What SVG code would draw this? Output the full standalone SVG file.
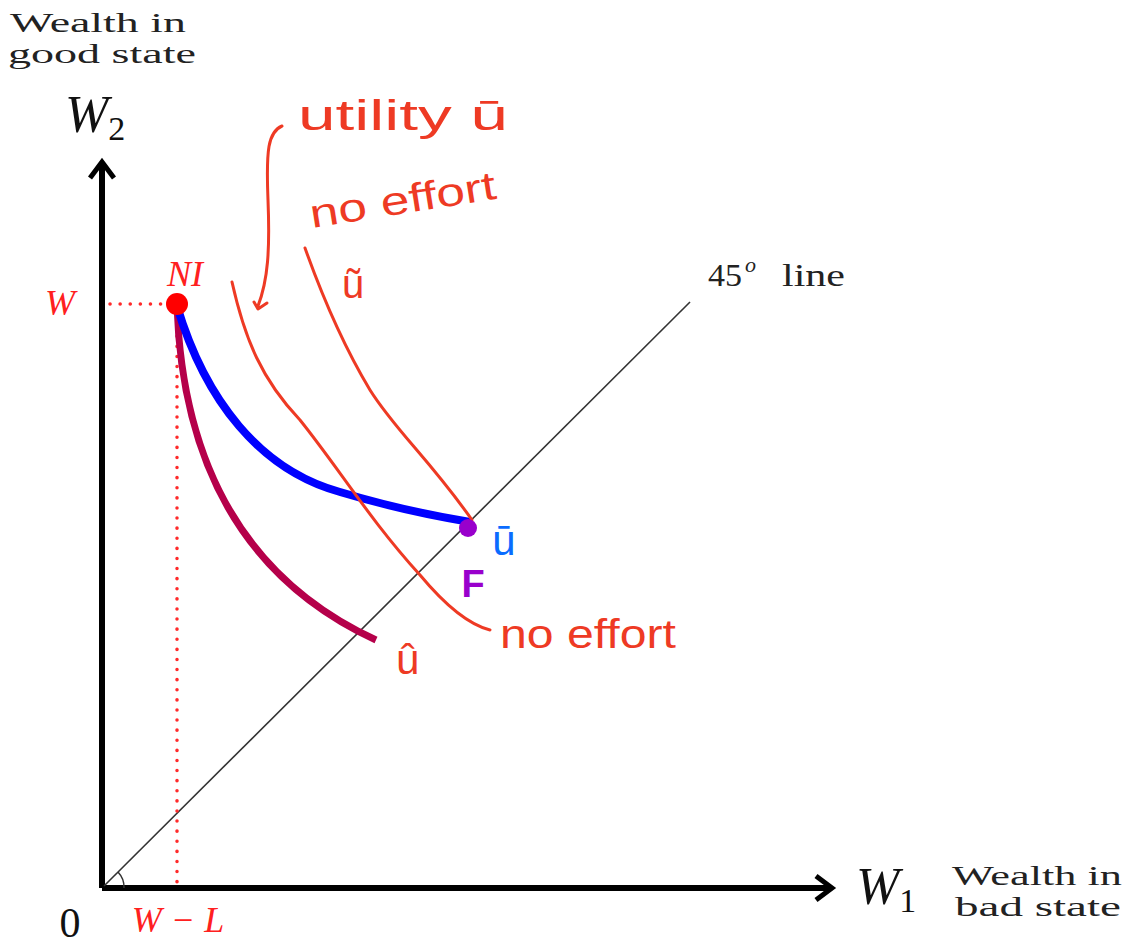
<svg xmlns="http://www.w3.org/2000/svg" width="1128" height="944" viewBox="0 0 1128 944">
<style>
.serif{font-family:"Liberation Serif","DejaVu Serif",serif;fill:#222}
.math{font-family:"Liberation Serif","DejaVu Serif",serif;font-style:italic;fill:#111}
.redm{font-family:"Liberation Serif","DejaVu Serif",serif;font-style:italic;fill:#ff2020}
.hand{font-family:"Liberation Sans","DejaVu Sans",sans-serif;fill:#ee3a24}
.stroke{fill:none;stroke:#ee3a24;stroke-width:3;stroke-linecap:round;stroke-linejoin:round}
.axis{fill:none;stroke:#000;stroke-width:6}
.dot{fill:none;stroke:#ff2a2a;stroke-width:3.5;stroke-dasharray:0.1 10;stroke-linecap:round}
</style>
<rect width="1128" height="944" fill="#fff"/>
<g id="axes">
  <path class="axis" d="M102,888 H830"/>
  <path class="axis" d="M102,888 V164"/>
  <path d="M90,178 L102,162 L114,178" fill="none" stroke="#000" stroke-width="5"/>
  <path d="M816,876 L832,888 L816,900" fill="none" stroke="#000" stroke-width="5"/>
  <path d="M124,888 A22,22 0 0 0 118,872" fill="none" stroke="#333" stroke-width="1.5"/>
</g>
<g id="line45">
  <path d="M104,886 L690,302" stroke="#333" stroke-width="1.6" fill="none"/>
</g>
<g id="guides">
  <path class="dot" d="M110,304 H168"/>
  <path class="dot" d="M177,316 V884"/>
</g>
<g id="curves">
  <path d="M177,306 C182,450 235,575 376,640" fill="none" stroke="#b5004a" stroke-width="7"/>
  <path d="M177,306 C205,400 260,470 340,492 C400,510 440,517 470,522" fill="none" stroke="#0000ff" stroke-width="8"/>
</g>
<g id="handstrokes">
  <path class="stroke" d="M282,126 C268,132 266,150 268,200 C270,250 268,280 258,306 M254,302 L258,309 L267,303"/>
  <path class="stroke" d="M232,282 C245,340 262,380 300,420 C340,470 370,520 420,575 C445,605 470,625 490,630"/>
  <path class="stroke" d="M305,248 C320,290 340,340 370,390 C395,430 430,460 472,520"/>
</g>
<g id="NI">
  <circle cx="177" cy="304" r="11" fill="#ff0000"/>
  <text class="redm" x="185" y="286" font-size="36" text-anchor="middle">NI</text>
  <text class="redm" x="60" y="315" font-size="36" text-anchor="middle">W</text>
</g>
<g id="F">
  <circle cx="468" cy="528" r="9" fill="#9900cc"/>
  <text x="473" y="597" font-family="Liberation Sans,sans-serif" font-size="38" font-weight="bold" fill="#9900cc" text-anchor="middle">F</text>
  <text x="504" y="555" font-family="Liberation Sans,sans-serif" font-size="42" fill="#0a6cff" text-anchor="middle">ū</text>
</g>
<g id="labels">
  <text class="serif" x="10" y="32" font-size="28" textLength="176" lengthAdjust="spacingAndGlyphs">Wealth in</text>
  <text class="serif" x="8" y="63" font-size="28" textLength="188" lengthAdjust="spacingAndGlyphs">good state</text>
  <text class="math" x="65" y="132" font-size="52">W<tspan font-size="34" font-style="normal" dy="8">2</tspan></text>
  <text class="serif" x="708" y="286" font-size="32" textLength="34" lengthAdjust="spacingAndGlyphs">45</text>
  <text class="serif" x="745" y="272" font-size="22" font-style="italic">o</text>
  <text class="serif" x="782" y="286" font-size="32" textLength="63" lengthAdjust="spacingAndGlyphs">line</text>
  <text class="math" x="856" y="904" font-size="52">W<tspan font-size="34" font-style="normal" dy="8">1</tspan></text>
  <text class="serif" x="952" y="885" font-size="28" textLength="170" lengthAdjust="spacingAndGlyphs">Wealth in</text>
  <text class="serif" x="955" y="916" font-size="28" textLength="166" lengthAdjust="spacingAndGlyphs">bad state</text>
  <text x="70" y="937" font-family="Liberation Serif,serif" font-size="42" fill="#111" text-anchor="middle">0</text>
  <text class="redm" x="178" y="932" font-size="36" text-anchor="middle">W − L</text>
</g>
<g id="handtext">
  <text class="hand" x="298" y="130" font-size="42" textLength="210" lengthAdjust="spacingAndGlyphs">utility ū</text>
  <text class="hand" x="312" y="228" font-size="40" textLength="188" lengthAdjust="spacingAndGlyphs" transform="rotate(-9 312 228)">no effort</text>
  <text class="hand" x="342" y="298" font-size="40">ũ</text>
  <text class="hand" x="500" y="648" font-size="40" textLength="176" lengthAdjust="spacingAndGlyphs">no effort</text>
  <text class="hand" x="396" y="674" font-size="42">û</text>
</g>
</svg>
